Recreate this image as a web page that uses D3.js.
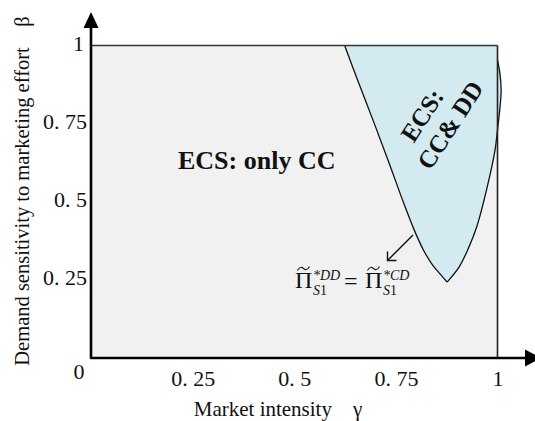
<!DOCTYPE html>
<html>
<head>
<meta charset="utf-8">
<script src="https://cdn.jsdelivr.net/npm/d3@7"></script>
<style>
  html, body { margin: 0; padding: 0; background: #ffffff; }
  svg { display: block; }
  text { font-family: "Liberation Serif", "Times New Roman", serif; fill: #111; }
</style>
</head>
<body>
<svg id="chart" width="535" height="421"></svg>
<script>
// Tick positions and their printed labels
const xTicks = [0.25, 0.5, 0.75, 1];
const xTickLabels = ["0. 25", "0. 5", "0. 75", "1"];
const yTicks = [0.25, 0.5, 0.75, 1];
const yTickLabels = ["0. 25", "0. 5", "0. 75", "1"];

// Boundary where the two profits are equal (left edge of the shaded region), from β = 1 down to the cusp
const equalProfitCurve = [
  [0.624, 1.0], [0.660, 0.875], [0.697, 0.75], [0.733, 0.625], [0.768, 0.5],
  [0.795, 0.41], [0.818, 0.345], [0.840, 0.298], [0.858, 0.270], [0.876, 0.243]
];
// Right edge of the shaded region, from the cusp back up to γ = 1
const rightCurve = [
  [0.876, 0.243], [0.905, 0.290], [0.928, 0.350], [0.949, 0.420], [0.973, 0.538],
  [0.994, 0.666], [1.000, 0.730], [1.006, 0.800], [1.009, 0.858], [1.006, 0.910], [1.000, 0.954]
];

const svg = d3.select("#chart");
const x = d3.scaleLinear().domain([0, 1]).range([91, 497.5]);
const y = d3.scaleLinear().domain([0, 1]).range([358, 45.5]);

// Plot background
svg.append("rect")
  .attr("x", x(0)).attr("y", y(1))
  .attr("width", x(1) - x(0)).attr("height", y(0) - y(1))
  .attr("fill", "#f1f1f1");

// Shaded region (ECS: CC & DD)
const line = d3.line().x(d => x(d[0])).y(d => y(d[1])).curve(d3.curveCatmullRom.alpha(0.5));
const leftPath = line(equalProfitCurve);
const rightPath = line(rightCurve);
svg.append("path")
  .attr("d", leftPath + rightPath.replace(/^M/, "L") + `L${x(1)},${y(1)}Z`)
  .attr("fill", "#d3eaf0")
  .attr("stroke", "none");

svg.append("path").attr("d", leftPath)
  .attr("fill", "none").attr("stroke", "#111").attr("stroke-width", 1.3);
svg.append("path").attr("d", rightPath)
  .attr("fill", "none").attr("stroke", "#111").attr("stroke-width", 1.3);

// Top and right frame lines
svg.append("line")
  .attr("x1", x(0)).attr("x2", x(1)).attr("y1", y(1)).attr("y2", y(1))
  .attr("stroke", "#333").attr("stroke-width", 1.6);
svg.append("line")
  .attr("x1", x(1)).attr("x2", x(1)).attr("y1", y(1)).attr("y2", y(0))
  .attr("stroke", "#222").attr("stroke-width", 1.6);

// Main axes with arrowheads
svg.append("path")
  .attr("d", `M${x(0)},26 L${x(0)},${y(0)} L526,${y(0)}`)
  .attr("fill", "none").attr("stroke", "#000").attr("stroke-width", 2.6)
  .attr("stroke-linejoin", "round");
svg.append("path")
  .attr("d", `M${x(0)},12 L${x(0) - 7.5},28 L${x(0) + 7.5},28 Z`)
  .attr("fill", "#000");
svg.append("path")
  .attr("d", `M541,${y(0)} L525,${y(0) - 8.5} L525,${y(0) + 8.5} Z`)
  .attr("fill", "#000");

// Tick labels via d3 axes (no tick marks, no domain line)
const xAxis = d3.axisBottom(x).tickValues(xTicks).tickSize(0).tickPadding(0)
  .tickFormat((d, i) => xTickLabels[i]);
const gx = svg.append("g").attr("transform", `translate(0,${y(0)})`).call(xAxis);
gx.select(".domain").remove();
gx.selectAll("text")
  .attr("y", 20).attr("dy", "0.35em")
  .style("font-family", "'Liberation Serif', serif").style("font-size", "22px").attr("fill", "#222");

const yAxis = d3.axisLeft(y).tickValues(yTicks).tickSize(0).tickPadding(4)
  .tickFormat((d, i) => yTickLabels[i]);
const gy = svg.append("g").attr("transform", `translate(${x(0)},0)`).call(yAxis);
gy.select(".domain").remove();
gy.selectAll("text")
  .attr("dy", "0.22em")
  .style("font-family", "'Liberation Serif', serif").style("font-size", "22px").attr("fill", "#222");
gy.selectAll(".tick").filter(d => d === 1).select("text").attr("x", -7);

// Origin label
svg.append("text").attr("x", 79).attr("y", 371).attr("dy", "0.35em")
  .attr("text-anchor", "middle").style("font-size", "22px").attr("fill", "#222").text("0");

// Axis titles
svg.append("text").attr("x", 278).attr("y", 416)
  .attr("text-anchor", "middle").style("font-size", "21px").attr("fill", "#222")
  .text("Market intensity\u2003γ");
svg.append("text")
  .attr("transform", "translate(29,191) rotate(-90)")
  .attr("text-anchor", "middle").style("font-size", "20.5px").attr("fill", "#222")
  .text("Demand sensitivity to marketing effort\u2003β");

// Region labels
svg.append("text").attr("x", 178).attr("y", 169)
  .style("font-size", "26px").style("font-weight", "bold").attr("fill", "#000")
  .text("ECS: only CC");

const g2 = svg.append("g").attr("transform", "translate(436,120) rotate(-57)");
g2.append("text").attr("x", -3.5).attr("y", -14.5).attr("dy", "0.35em")
  .attr("text-anchor", "middle").style("font-size", "25px").style("font-weight", "bold").attr("fill", "#000")
  .text("ECS:");
g2.append("text").attr("x", 3.5).attr("y", 14.5).attr("dy", "0.35em")
  .attr("text-anchor", "middle").style("font-size", "25px").style("font-weight", "bold").attr("fill", "#000")
  .text("CC& DD");

// Pointer from the boundary to its equation
svg.append("line")
  .attr("x1", 413).attr("y1", 235).attr("x2", 387.5).attr("y2", 260.5)
  .attr("stroke", "#111").attr("stroke-width", 1.4);
svg.append("path")
  .attr("d", "M387.5,251.5 L387.5,260.5 L396.5,260.5")
  .attr("fill", "none").attr("stroke", "#111").attr("stroke-width", 1.4);

// Equation label: Π̃*DD_S1 = Π̃*CD_S1 (the tilde accent drawn as a small stroke)
function piTerm(x0, sup) {
  svg.append("path")
    .attr("d", `M${x0 + 2.5},${270.5} C${x0 + 4.5},${266.5} ${x0 + 7},${267} ${x0 + 8.5},${268.5}` +
               ` S${x0 + 12.5},${270.5} ${x0 + 14.5},${266.5}`)
    .attr("fill", "none").attr("stroke", "#222").attr("stroke-width", 1.1);
  const t = svg.append("text").attr("fill", "#222");
  t.append("tspan").attr("x", x0).attr("y", 288).style("font-size", "24px").text("Π");
  t.append("tspan").attr("x", x0 + 18).attr("y", 280)
    .style("font-size", "14px").style("font-style", "italic").text(sup);
  t.append("tspan").attr("x", x0 + 18).attr("y", 295)
    .style("font-size", "14px").style("font-style", "italic").text("S");
  t.append("tspan").style("font-size", "14px").text("1");
}
piTerm(295, "*DD");
svg.append("text").attr("x", 344).attr("y", 288.5)
  .style("font-size", "24px").attr("fill", "#222").text("=");
piTerm(365, "*CD");
</script>
</body>
</html>
